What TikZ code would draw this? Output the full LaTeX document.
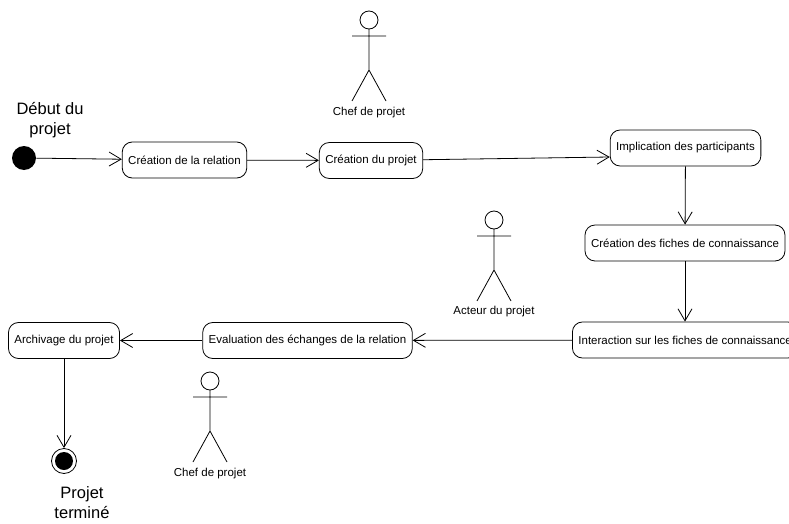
\documentclass[tikz,border=0pt]{standalone}
\usepackage{fontspec}
\setmainfont{Liberation Sans}
\usetikzlibrary{arrows.meta}
\begin{document}
\begin{tikzpicture}[x=1pt,y=-1pt,line width=0.8pt,
    activity/.style={draw,rounded corners=10pt,minimum height=36pt,inner xsep=6pt,font=\fontsize{11.5}{13}\selectfont},
    flow/.style={-{Straight Barb[length=12pt,width=14pt]}},
    caption/.style={font=\fontsize{11.5}{13}\selectfont},
    big/.style={align=center,font=\fontsize{16.5}{20}\selectfont},
    actor/.pic={
      \draw (0,0) circle (9pt);
      \draw (0,9) -- (0,50) (-17,16) -- (17,16) (-17,81) -- (0,50) -- (17,81);
    }]
  \useasboundingbox (0,0) rectangle (789,524);
  % start and end
  \node[circle,fill=black,minimum size=24pt,inner sep=0pt] (debut) at (24,158) {};
  \node[big] (debutlabel) at (50,120) {D\'ebut du\\projet};
  \node[circle,draw,minimum size=25pt,inner sep=0pt] (fin) at (64,461) {};
  \fill (fin.center) circle (9pt);
  \node[big] (finlabel) at (82,503) {Projet\\termin\'e};
  % activities
  \node[activity] (relation) at (184.5,160) {Cr\'eation de la relation};
  \node[activity] (projet) at (371,160.5) {Cr\'eation du projet};
  \node[activity] (implication) at (685.5,148) {Implication des participants};
  \node[activity] (fiches) at (685,243) {Cr\'eation des fiches de connaissance};
  \node[activity,anchor=west] (interaction) at (572,340) {Interaction sur les fiches de connaissance};
  \node[activity] (evaluation) at (307.5,340.5) {Evaluation des \'echanges de la relation};
  \node[activity] (archivage) at (64,340.5) {Archivage du projet};
  % actors
  \pic at (369,20) {actor};
  \node[caption] (chef1) at (369,113) {Chef de projet};
  \pic at (494,220) {actor};
  \node[caption] (acteur) at (494,312) {Acteur du projet};
  \pic at (210,381) {actor};
  \node[caption] (chef2) at (210,474) {Chef de projet};
  % flows
  \draw[flow] (debut) -- (relation);
  \draw[flow] (relation) -- (projet);
  \draw[flow] (projet) -- ([yshift=-9pt]implication.west);
  \draw[flow] (implication) -- (fiches);
  \draw[flow] (fiches.south) -- (fiches.south |- interaction.north);
  \draw[flow] (interaction) -- (evaluation);
  \draw[flow] (evaluation) -- (archivage);
  \draw[flow] (archivage) -- (fin);
\end{tikzpicture}
\end{document}
